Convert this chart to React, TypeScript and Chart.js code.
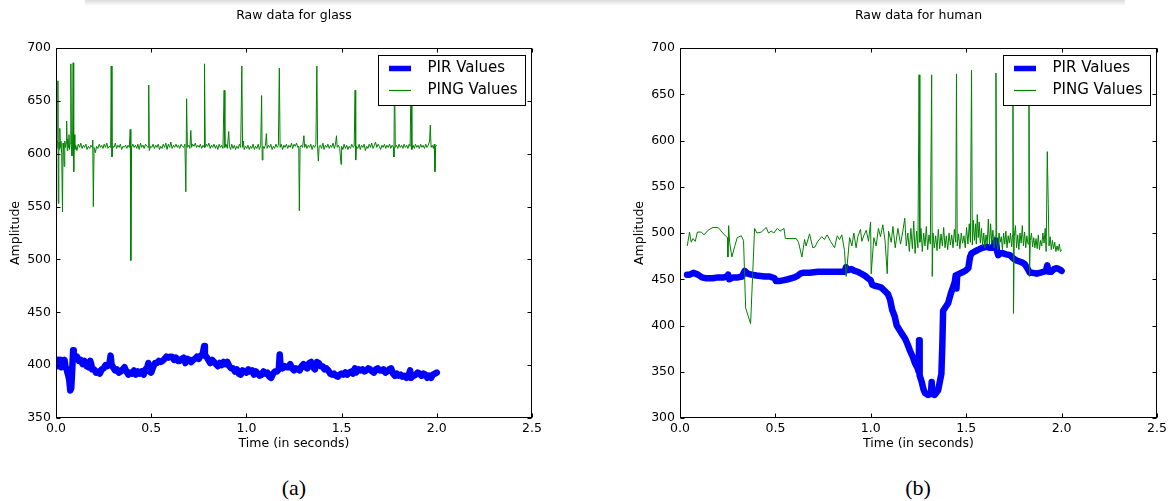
import React, { useEffect, useRef } from 'react';
import { Chart, registerables } from 'chart.js';

Chart.register(...registerables);

// ---------- DATA ----------
const glassXTicks = [0, 0.5, 1.0, 1.5, 2.0, 2.5];
const glassYTicks = [350, 400, 450, 500, 550, 600, 650, 700];
const humanXTicks = [0, 0.5, 1.0, 1.5, 2.0, 2.5];
const humanYTicks = [300, 350, 400, 450, 500, 550, 600, 650, 700];

const seriesLabels = ['PIR Values', 'PING Values'];
const panelTitles = ['Raw data for glass', 'Raw data for human'];
const captions = ['(a)', '(b)'];

// [time (s), amplitude]
const glassPir: [number, number][] = [
  [0.000,401],[0.005,405],[0.010,399],[0.015,405],[0.020,402],[0.025,405],[0.030,398],[0.035,404],[0.040,400],[0.045,405],
  [0.050,398],[0.055,397],[0.060,393],[0.065,390],[0.070,385],[0.075,376],[0.080,378],[0.085,395],[0.090,414],[0.093,410],
  [0.100,407],[0.110,408],[0.120,404],[0.130,405],[0.140,401],[0.150,404],[0.160,399],[0.170,398],[0.180,404],[0.185,401],
  [0.190,396],[0.200,396],[0.210,393],[0.220,394],[0.230,392],[0.240,396],[0.250,397],[0.260,400],[0.270,399],[0.280,401],
  [0.287,409],[0.292,400],[0.300,398],[0.310,395],[0.320,396],[0.330,393],[0.340,394],[0.350,396],[0.360,398],[0.370,394],
  [0.380,391],[0.390,393],[0.400,392],[0.410,395],[0.420,391],[0.430,394],[0.440,392],[0.450,394],[0.460,391],[0.470,396],
  [0.480,398],[0.485,402],[0.490,394],[0.500,393],[0.510,398],[0.520,402],[0.530,402],[0.540,404],[0.550,403],[0.560,404],
  [0.570,406],[0.580,408],[0.590,407],[0.600,408],[0.610,408],[0.620,405],[0.630,407],[0.640,404],[0.650,404],[0.660,406],
  [0.670,407],[0.680,402],[0.690,406],[0.700,405],[0.710,403],[0.720,405],[0.730,406],[0.740,408],[0.750,406],[0.760,409],
  [0.770,410],[0.778,418],[0.782,409],[0.790,408],[0.800,405],[0.810,402],[0.820,405],[0.830,403],[0.840,401],[0.850,399],
  [0.860,402],[0.870,400],[0.880,403],[0.890,401],[0.900,403],[0.910,399],[0.920,397],[0.930,397],[0.940,394],[0.950,396],
  [0.960,392],[0.970,391],[0.980,395],[0.990,394],[1.000,393],[1.010,396],[1.020,394],[1.030,395],[1.040,391],[1.050,394],
  [1.060,392],[1.070,390],[1.080,391],[1.090,394],[1.100,392],[1.110,393],[1.120,389],[1.130,388],[1.140,392],[1.150,394],
  [1.160,394],[1.170,396],[1.175,410],[1.180,398],[1.190,397],[1.200,399],[1.210,398],[1.220,398],[1.230,401],[1.240,397],
  [1.250,395],[1.260,397],[1.270,396],[1.280,395],[1.290,399],[1.300,401],[1.310,398],[1.320,397],[1.330,402],[1.340,403],
  [1.350,398],[1.360,396],[1.370,403],[1.380,402],[1.390,399],[1.400,399],[1.410,396],[1.420,397],[1.430,395],[1.440,392],
  [1.450,391],[1.460,392],[1.470,390],[1.480,389],[1.490,391],[1.500,392],[1.510,391],[1.520,393],[1.530,391],[1.540,393],
  [1.550,394],[1.560,392],[1.570,397],[1.575,393],[1.580,394],[1.590,396],[1.600,395],[1.610,396],[1.620,394],[1.630,395],
  [1.640,397],[1.650,396],[1.660,394],[1.670,393],[1.680,396],[1.690,397],[1.700,395],[1.710,395],[1.720,396],[1.730,393],
  [1.740,394],[1.750,396],[1.760,397],[1.770,392],[1.780,390],[1.790,392],[1.800,390],[1.810,391],[1.820,389],[1.830,390],
  [1.840,388],[1.850,389],[1.860,395],[1.865,388],[1.870,389],[1.880,390],[1.890,391],[1.900,393],[1.910,392],[1.920,390],
  [1.930,392],[1.940,391],[1.950,388],[1.960,390],[1.970,388],[1.980,391],[1.990,392],[2.000,393],
];

const glassPing: [number, number][] = [
  [0.000,610],[0.004,605],[0.008,612],[0.010,669],[0.012,553],[0.015,611],[0.018,604],[0.020,624],[0.023,606],[0.026,612],
  [0.030,600],[0.034,545],[0.037,610],[0.040,605],[0.043,588],[0.046,612],[0.050,606],[0.053,610],[0.056,631],[0.059,603],
  [0.062,614],[0.065,606],[0.068,618],[0.071,604],[0.074,610],[0.078,685],[0.081,607],[0.084,598],[0.087,612],[0.090,686],
  [0.093,583],[0.096,618],[0.099,604],[0.104,608],[0.110,603],[0.117,609],[0.124,606],[0.130,610],[0.137,605],[0.144,608],
  [0.150,606],[0.157,609],[0.163,604],[0.170,607],[0.177,605],[0.183,608],[0.190,606],[0.193,613],[0.196,550],[0.200,606],
  [0.207,601],[0.213,607],[0.220,605],[0.227,609],[0.233,606],[0.240,608],[0.247,605],[0.253,609],[0.260,606],[0.267,610],
  [0.273,605],[0.280,607],[0.287,606],[0.290,683],[0.294,597],[0.298,607],[0.305,606],[0.312,610],[0.318,605],[0.325,608],
  [0.332,606],[0.338,609],[0.345,604],[0.352,607],[0.358,606],[0.365,608],[0.372,605],[0.378,608],[0.385,606],[0.390,623],
  [0.393,499],[0.397,606],[0.404,609],[0.410,606],[0.417,608],[0.424,605],[0.430,609],[0.437,604],[0.444,610],[0.450,606],
  [0.457,608],[0.463,605],[0.470,609],[0.477,607],[0.484,606],[0.487,665],[0.490,603],[0.497,607],[0.504,606],[0.510,609],
  [0.517,605],[0.524,608],[0.530,606],[0.537,609],[0.544,604],[0.550,607],[0.557,605],[0.563,609],[0.570,606],[0.577,610],
  [0.583,604],[0.590,609],[0.597,606],[0.603,611],[0.610,605],[0.617,608],[0.623,606],[0.630,609],[0.637,606],[0.643,608],
  [0.650,605],[0.657,609],[0.663,607],[0.670,606],[0.677,609],[0.682,564],[0.686,652],[0.690,606],[0.697,608],[0.703,605],
  [0.708,622],[0.712,606],[0.718,609],[0.725,607],[0.732,610],[0.738,606],[0.745,608],[0.752,606],[0.758,609],[0.765,605],
  [0.772,608],[0.778,606],[0.780,685],[0.784,606],[0.790,609],[0.797,607],[0.803,610],[0.810,605],[0.817,608],[0.823,606],
  [0.830,609],[0.837,605],[0.843,608],[0.850,604],[0.857,609],[0.863,606],[0.870,608],[0.877,605],[0.883,660],[0.887,606],
  [0.893,609],[0.900,605],[0.907,621],[0.911,607],[0.917,604],[0.923,609],[0.930,605],[0.937,608],[0.943,604],[0.950,607],
  [0.957,605],[0.963,609],[0.970,606],[0.976,683],[0.980,606],[0.984,612],[0.988,604],[0.995,607],[1.002,605],[1.008,608],
  [1.015,604],[1.022,607],[1.028,605],[1.035,609],[1.042,604],[1.048,607],[1.055,605],[1.062,609],[1.068,604],[1.075,608],
  [1.080,655],[1.083,594],[1.087,607],[1.093,605],[1.100,608],[1.105,619],[1.109,605],[1.115,608],[1.122,606],[1.128,609],
  [1.135,604],[1.142,607],[1.148,605],[1.155,609],[1.162,606],[1.168,608],[1.173,681],[1.177,606],[1.183,609],[1.190,604],
  [1.197,608],[1.203,606],[1.210,609],[1.217,605],[1.223,608],[1.230,606],[1.237,610],[1.243,605],[1.250,609],[1.257,607],
  [1.263,610],[1.270,606],[1.275,607],[1.278,546],[1.282,606],[1.288,608],[1.295,606],[1.302,617],[1.306,606],[1.312,609],
  [1.318,605],[1.325,608],[1.332,606],[1.338,609],[1.345,604],[1.352,608],[1.358,606],[1.365,609],[1.370,683],[1.374,605],
  [1.378,593],[1.382,607],[1.388,608],[1.395,605],[1.402,610],[1.408,604],[1.415,608],[1.422,606],[1.428,609],[1.435,605],
  [1.442,608],[1.448,606],[1.455,610],[1.462,605],[1.468,609],[1.473,617],[1.477,606],[1.483,608],[1.490,605],[1.497,590],
  [1.500,607],[1.507,604],[1.513,609],[1.520,605],[1.527,608],[1.533,604],[1.540,607],[1.547,605],[1.553,609],[1.560,606],
  [1.566,607],[1.571,660],[1.574,594],[1.578,607],[1.585,605],[1.592,609],[1.598,604],[1.605,608],[1.612,606],[1.618,609],
  [1.625,603],[1.632,607],[1.638,605],[1.645,609],[1.652,606],[1.658,610],[1.665,605],[1.672,608],[1.678,611],[1.685,606],
  [1.692,609],[1.698,607],[1.705,604],[1.712,608],[1.718,606],[1.725,609],[1.732,605],[1.738,608],[1.745,606],[1.752,609],
  [1.758,605],[1.765,608],[1.772,606],[1.775,597],[1.778,680],[1.782,606],[1.788,608],[1.795,605],[1.802,609],[1.808,606],
  [1.815,608],[1.822,605],[1.828,609],[1.835,606],[1.842,608],[1.848,605],[1.855,609],[1.860,607],[1.865,678],[1.869,604],
  [1.875,608],[1.882,605],[1.888,609],[1.895,606],[1.902,608],[1.908,605],[1.915,609],[1.922,606],[1.928,608],[1.935,605],
  [1.942,609],[1.948,606],[1.955,608],[1.962,612],[1.966,627],[1.970,606],[1.976,608],[1.982,605],[1.987,609],[1.990,583],
  [1.994,607],[2.000,608],
];

const humanPir: [number, number][] = [
  [0.037,455],[0.051,455],[0.070,457],[0.094,455],[0.115,452],[0.138,451],[0.170,451],[0.200,452],[0.230,452],[0.248,453],
  [0.252,455],[0.258,450],[0.280,452],[0.304,452],[0.325,453],[0.339,459],[0.355,456],[0.374,455],[0.400,454],[0.444,453],
  [0.470,453],[0.496,451],[0.503,448],[0.520,448],[0.545,449],[0.566,450],[0.600,452],[0.618,454],[0.630,456],[0.645,457],
  [0.680,457],[0.723,458],[0.780,458],[0.830,458],[0.863,458],[0.870,463],[0.880,460],[0.898,461],[0.915,459],[0.933,458],
  [0.950,456],[0.968,454],[0.985,451],[0.999,449],[1.008,444],[1.020,443],[1.040,442],[1.055,441],[1.075,437],[1.090,434],
  [1.101,428],[1.112,417],[1.125,410],[1.136,400],[1.160,392],[1.179,386],[1.192,380],[1.205,373],[1.220,366],[1.232,359],
  [1.245,354],[1.251,350],[1.253,384],[1.256,346],[1.267,339],[1.276,331],[1.284,327],[1.300,325],[1.315,326],[1.319,339],
  [1.323,326],[1.335,325],[1.353,330],[1.370,348],[1.375,380],[1.379,416],[1.392,420],[1.405,424],[1.420,435],[1.432,442],
  [1.440,447],[1.445,454],[1.449,440],[1.453,455],[1.475,457],[1.495,459],[1.511,462],[1.520,474],[1.528,478],[1.545,480],
  [1.564,482],[1.585,484],[1.607,485],[1.625,484],[1.642,484],[1.650,490],[1.656,492],[1.662,480],[1.668,476],[1.680,478],
  [1.694,478],[1.710,477],[1.729,476],[1.740,474],[1.750,472],[1.766,470],[1.782,469],[1.795,468],[1.808,466],[1.820,462],
  [1.834,457],[1.850,457],[1.869,456],[1.885,457],[1.904,458],[1.918,459],[1.925,465],[1.932,458],[1.945,458],[1.960,461],
  [1.974,462],[1.985,461],[1.995,460],[2.000,459],
];

const humanPing: [number, number][] = [
  [0.038,486],[0.050,501],[0.059,490],[0.068,494],[0.080,491],[0.091,501],[0.112,501],[0.126,498],[0.147,503],[0.173,506],
  [0.200,506],[0.220,501],[0.242,496],[0.249,495],[0.251,474],[0.255,508],[0.260,490],[0.272,474],[0.286,485],[0.300,495],
  [0.321,497],[0.333,492],[0.344,419],[0.370,402],[0.391,505],[0.403,500],[0.426,501],[0.452,506],[0.464,500],[0.478,502],
  [0.492,500],[0.510,505],[0.524,502],[0.545,505],[0.552,494],[0.609,494],[0.621,490],[0.639,474],[0.653,493],[0.661,486],
  [0.679,499],[0.696,484],[0.708,485],[0.722,491],[0.743,496],[0.757,493],[0.771,498],[0.789,491],[0.810,484],[0.824,497],
  [0.836,493],[0.848,498],[0.862,481],[0.871,453],[0.889,495],[0.901,486],[0.911,500],[0.923,484],[0.932,496],[0.946,504],
  [0.953,491],[0.963,497],[0.976,503],[0.988,491],[0.999,512],[1.002,456],[1.016,495],[1.028,486],[1.040,505],[1.051,496],
  [1.063,509],[1.075,491],[1.086,456],[1.093,502],[1.107,490],[1.116,507],[1.128,484],[1.142,505],[1.156,488],[1.168,502],
  [1.178,516],[1.186,486],[1.194,500],[1.202,480],[1.210,505],[1.218,483],[1.225,513],[1.232,478],[1.240,502],[1.247,484],
  [1.253,671],[1.257,490],[1.263,505],[1.270,480],[1.277,500],[1.284,486],[1.291,507],[1.298,482],[1.305,498],[1.312,488],
  [1.319,671],[1.322,453],[1.326,500],[1.333,484],[1.340,497],[1.347,481],[1.354,504],[1.361,483],[1.368,499],[1.375,486],
  [1.382,506],[1.389,484],[1.396,497],[1.403,482],[1.410,500],[1.417,487],[1.424,498],[1.431,484],[1.438,504],[1.445,490],
  [1.449,672],[1.453,486],[1.460,499],[1.467,483],[1.474,500],[1.481,489],[1.488,497],[1.495,484],[1.502,506],[1.509,488],
  [1.516,510],[1.522,490],[1.528,676],[1.532,487],[1.537,514],[1.543,492],[1.549,510],[1.553,488],[1.558,520],[1.563,495],
  [1.568,512],[1.574,489],[1.580,505],[1.586,486],[1.592,500],[1.598,484],[1.604,498],[1.610,488],[1.616,515],[1.622,486],
  [1.628,510],[1.634,489],[1.640,503],[1.646,484],[1.652,497],[1.656,673],[1.660,488],[1.666,482],[1.672,500],[1.678,490],
  [1.684,496],[1.690,482],[1.696,500],[1.702,488],[1.708,502],[1.714,484],[1.720,497],[1.726,489],[1.732,500],[1.738,485],
  [1.743,498],[1.745,670],[1.748,413],[1.752,496],[1.758,508],[1.764,484],[1.770,498],[1.776,482],[1.782,500],[1.788,489],
  [1.794,508],[1.800,486],[1.806,501],[1.812,484],[1.818,497],[1.824,488],[1.829,670],[1.832,453],[1.836,492],[1.842,500],
  [1.848,485],[1.854,495],[1.860,484],[1.866,494],[1.872,483],[1.878,498],[1.884,482],[1.890,492],[1.896,486],[1.902,500],
  [1.908,489],[1.914,505],[1.919,480],[1.925,588],[1.930,532],[1.934,486],[1.940,496],[1.946,482],[1.952,492],[1.958,483],
  [1.964,490],[1.970,480],[1.976,486],[1.982,481],[1.988,488],[1.994,480],[2.000,482],
];

// ---------- STYLE ----------
const FONT = '"DejaVu Sans", "Liberation Sans", sans-serif';
const PIR_COLOR = '#0000ff';
const PING_COLOR = '#008000';

const framePlugin = {
  id: 'mplFrame',
  afterDatasetsDraw(chart: any) {
    const { ctx, chartArea: a, scales } = chart;
    const L = Math.round(a.left) + 0.5;
    const R = Math.round(a.right) - 0.5;
    const T = Math.round(a.top) + 0.5;
    const B = Math.round(a.bottom) - 0.5;
    ctx.save();
    ctx.strokeStyle = '#000';
    ctx.lineWidth = 1;
    ctx.strokeRect(L, T, R - L, B - T);
    const len = 4;
    ctx.beginPath();
    scales.x.ticks.forEach((t: any) => {
      const px = Math.round(scales.x.getPixelForValue(t.value)) + 0.5;
      ctx.moveTo(px, B); ctx.lineTo(px, B - len);
      ctx.moveTo(px, T); ctx.lineTo(px, T + len);
    });
    scales.y.ticks.forEach((t: any) => {
      const py = Math.round(scales.y.getPixelForValue(t.value)) + 0.5;
      ctx.moveTo(L, py); ctx.lineTo(L + len, py);
      ctx.moveTo(R, py); ctx.lineTo(R - len, py);
    });
    ctx.stroke();
    ctx.restore();
  },
};

const legendPlugin = {
  id: 'mplLegend',
  afterDatasetsDraw(chart: any) {
    const { ctx, chartArea: a } = chart;
    const w = 147;
    const h = 50;
    const x0 = Math.round(a.right - 7 - w);
    const y0 = Math.round(a.top + 7);
    ctx.save();
    ctx.fillStyle = '#ffffff';
    ctx.fillRect(x0, y0, w, h);
    ctx.strokeStyle = '#000';
    ctx.lineWidth = 1;
    ctx.strokeRect(x0 + 0.5, y0 + 0.5, w, h);
    chart.data.datasets.forEach((ds: any, i: number) => {
      const cy = y0 + 13.5 + i * 22;
      ctx.beginPath();
      ctx.strokeStyle = ds.borderColor;
      ctx.lineWidth = i === 0 ? 5.5 : 1.2;
      ctx.lineCap = 'butt';
      ctx.moveTo(x0 + 11, cy);
      ctx.lineTo(x0 + 33, cy);
      ctx.stroke();
      ctx.fillStyle = '#000';
      ctx.font = `15px ${FONT}`;
      ctx.textBaseline = 'middle';
      ctx.textAlign = 'left';
      ctx.fillText(ds.label, x0 + 49.5, cy);
    });
    ctx.restore();
  },
};

type PanelProps = {
  left: number;
  width: number;
  padRight: number;
  title: string;
  pir: [number, number][];
  ping: [number, number][];
  xTicks: number[];
  yTicks: number[];
};

function Panel({ left, width, padRight, title, pir, ping, xTicks, yTicks }: PanelProps) {
  const ref = useRef<HTMLCanvasElement>(null);
  useEffect(() => {
    const chart = new Chart(ref.current as HTMLCanvasElement, {
      type: 'line',
      data: {
        datasets: [
          {
            label: seriesLabels[0],
            data: pir.map(([x, y]) => ({ x, y })),
            borderColor: PIR_COLOR,
            backgroundColor: PIR_COLOR,
            borderWidth: 6.5,
            pointRadius: 0,
            tension: 0,
            fill: false,
            borderJoinStyle: 'round',
            borderCapStyle: 'round',
            order: 1,
          },
          {
            label: seriesLabels[1],
            data: ping.map(([x, y]) => ({ x, y })),
            borderColor: PING_COLOR,
            backgroundColor: PING_COLOR,
            borderWidth: 1,
            pointRadius: 0,
            tension: 0,
            fill: false,
            order: 0,
          },
        ],
      } as any,
      options: {
        responsive: false,
        animation: false,
        events: [],
        layout: { padding: { left: 0, right: padRight, top: 0, bottom: 0 } },
        scales: {
          x: {
            type: 'linear',
            min: xTicks[0],
            max: xTicks[xTicks.length - 1],
            afterBuildTicks: (s: any) => {
              s.ticks = xTicks.map((v) => ({ value: v }));
            },
            afterFit: (s: any) => {
              s.height = 42;
            },
            grid: { display: false, drawTicks: false },
            border: { display: false },
            ticks: {
              padding: 3,
              color: '#000',
              font: { family: FONT, size: 12.5 },
              maxRotation: 0,
              autoSkip: false,
              callback: (v: any) => Number(v).toFixed(1),
            },
            title: {
              display: true,
              text: 'Time (in seconds)',
              color: '#000',
              font: { family: FONT, size: 12.5 },
              padding: { top: 0, bottom: 8.5 },
            },
          },
          y: {
            type: 'linear',
            min: yTicks[0],
            max: yTicks[yTicks.length - 1],
            afterBuildTicks: (s: any) => {
              s.ticks = yTicks.map((v) => ({ value: v }));
            },
            afterFit: (s: any) => {
              s.width = 56;
            },
            grid: { display: false, drawTicks: false },
            border: { display: false },
            ticks: {
              padding: 5,
              color: '#000',
              font: { family: FONT, size: 12.5 },
              autoSkip: false,
              callback: (v: any) => String(v),
            },
            title: {
              display: true,
              text: 'Amplitude',
              color: '#000',
              font: { family: FONT, size: 12.5 },
              padding: { top: 8.5, bottom: 0 },
            },
          },
        },
        plugins: {
          legend: { display: false },
          tooltip: { enabled: false },
          title: {
            display: true,
            text: title,
            color: '#000',
            fullSize: false,
            font: { family: FONT, size: 12.5, weight: 'normal' },
            padding: { top: 8.5, bottom: 24.5 },
          },
        },
      } as any,
      plugins: [framePlugin, legendPlugin],
    });
    return () => chart.destroy();
  }, []);
  return (
    <canvas
      ref={ref}
      width={width}
      height={460}
      style={{ position: 'absolute', left, top: 0, width, height: 460, display: 'block' }}
    />
  );
}

export default function App() {
  return (
    <div
      style={{
        position: 'absolute',
        left: 0,
        top: 0,
        width: 1175,
        height: 501,
        background: '#ffffff',
        overflow: 'hidden',
      }}
    >
      <div
        style={{
          position: 'absolute',
          left: 85,
          top: 0,
          width: 1040,
          height: 6,
          background: 'linear-gradient(#dcdcdc, rgba(255,255,255,0))',
        }}
      />
      <Panel
        left={0}
        width={590}
        padRight={58}
        title={panelTitles[0]}
        pir={glassPir}
        ping={glassPing}
        xTicks={glassXTicks}
        yTicks={glassYTicks}
      />
      <Panel
        left={624}
        width={551}
        padRight={18}
        title={panelTitles[1]}
        pir={humanPir}
        ping={humanPing}
        xTicks={humanXTicks}
        yTicks={humanYTicks}
      />
      {captions.map((c, i) => (
        <div
          key={c}
          style={{
            position: 'absolute',
            left: (i === 0 ? 294 : 918) - 50,
            top: 474,
            width: 100,
            textAlign: 'center',
            font: '22px "Liberation Serif", "DejaVu Serif", serif',
            lineHeight: '28px',
            color: '#000',
          }}
        >
          {c}
        </div>
      ))}
    </div>
  );
}
